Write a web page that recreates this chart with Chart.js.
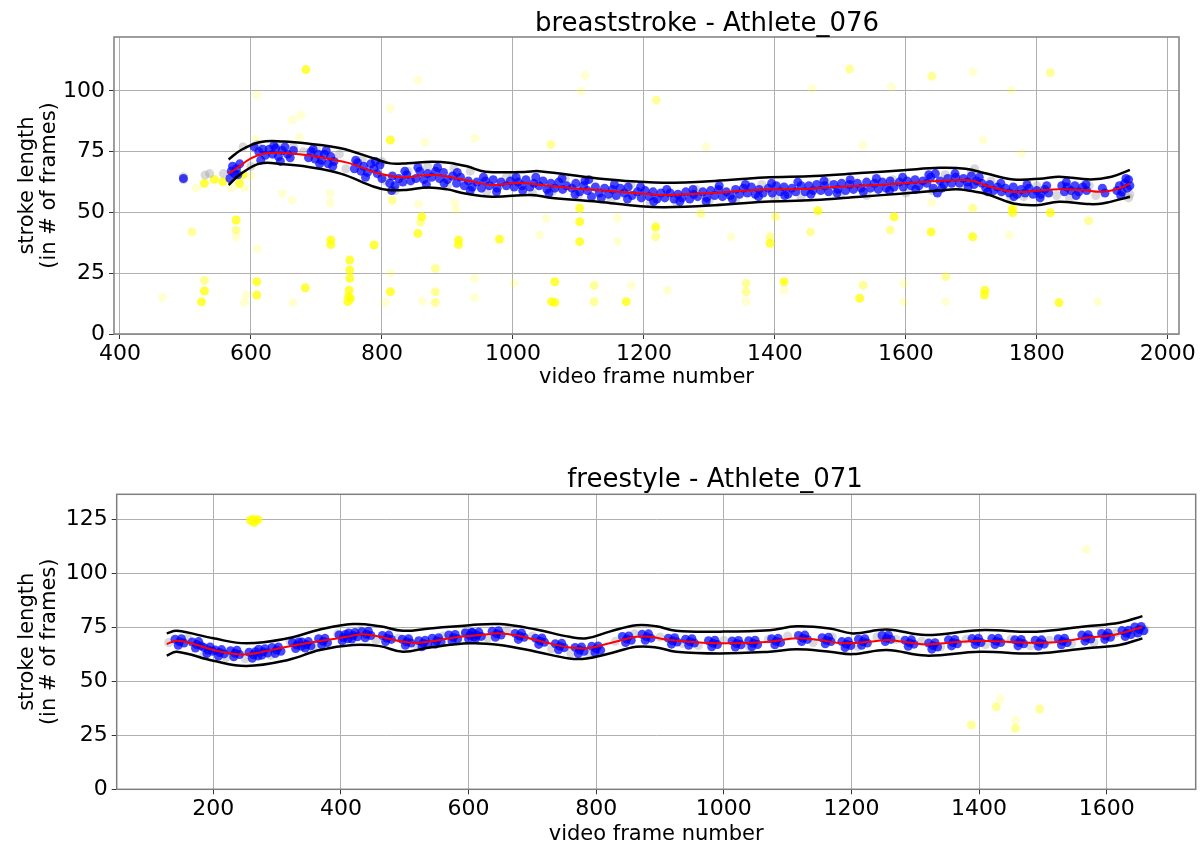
<!DOCTYPE html>
<html>
<head>
<meta charset="utf-8">
<script src="https://cdn.jsdelivr.net/npm/chart.js@4.4.0/dist/chart.umd.min.js"></script>
<style>
  body { margin: 0; background: #fff; width: 1203px; height: 846px; overflow: hidden; position: relative; }
  canvas { position: absolute; left: 0; }
  #top { top: 0; }
  #bottom { top: 430px; }
</style>
</head>
<body>
<canvas id="top" width="1203" height="420"></canvas>
<canvas id="bottom" width="1203" height="416"></canvas>
<script>
// ---- breaststroke - Athlete_076 ----
const topXTicks = [400, 600, 800, 1000, 1200, 1400, 1600, 1800, 2000];
const topYTicks = [0, 25, 50, 75, 100];

const topFitX = [566, 580, 600, 620, 650, 700, 750, 796, 832, 860, 882, 910, 940, 968, 1000, 1020, 1054, 1100, 1130, 1195, 1232, 1280, 1330, 1384, 1434, 1460, 1500, 1550, 1596, 1640, 1677, 1700, 1718, 1740, 1764, 1799, 1834, 1870, 1900, 1926, 1942];
const topFitY = [66, 68.5, 72.3, 74.3, 74.5, 73, 70.3, 66, 64.4, 65.2, 65.4, 64.3, 62.6, 61.3, 62, 62, 61, 59.8, 59.2, 57.8, 57.2, 57.7, 58.5, 59.5, 59.6, 59.9, 60.6, 61.2, 62, 62.8, 63.3, 63.2, 61.5, 59.8, 58.5, 58.9, 59.6, 59.2, 58.5, 59.9, 62];

const topUpX = [566, 585, 615, 650, 686, 737, 788, 813, 840, 876, 902, 930, 958, 1018, 1040, 1130, 1195, 1232, 1308, 1384, 1460, 1530, 1596, 1652, 1691, 1723, 1764, 1810, 1834, 1882, 1914, 1942];
const topUpY = [71.8, 75.7, 79, 79.2, 78.4, 76.4, 72.2, 70.2, 70.3, 70.9, 70.5, 69, 66.8, 66.7, 67, 64, 62.6, 62.2, 63, 64.4, 65, 66.2, 67.4, 68.4, 68, 66, 63.6, 64, 64.7, 63.6, 64.7, 67.5];

const topLowX = [566, 585, 615, 650, 686, 737, 788, 810, 840, 870, 900, 927, 968, 1029, 1060, 1130, 1195, 1232, 1308, 1384, 1460, 1530, 1596, 1650, 1677, 1700, 1723, 1764, 1799, 1834, 1876, 1900, 1942];
const topLowY = [61.3, 66, 70.2, 69.8, 68.8, 66, 60.6, 59.2, 59.4, 60.3, 59.5, 57.8, 56.5, 57.2, 56, 54.4, 52.6, 52.2, 53, 54.4, 55.1, 56.5, 57.8, 59, 59.6, 58.8, 57.6, 53.7, 53, 54.4, 53.5, 53.7, 56.5];

const topBlue = [
  [497,64],[568,64],[570,67],[572,69],[575,66],[578,68],[580,65.5],[583,70],
  [612,75],[618,76],[622,73.5],[628,76],[633,74],[638,76.5],[642,73],[648,75.5],[652,77],[656,74],[660,72.5],
  [688,72.5],[692,75],[698,72],[703,74],[708,71.5],[712,74],[718,70],[722,73],[727,71],
  [758,68],[763,70.5],[768,67],[772,69],[778,66.5],[783,70],[788,68],[793,66],[797,69.5],
  [812,62],[816,65],[820,61],[826,64],[832,62.5],[838,65.5],[844,63],
  [852,64],[858,67],[864,63.5],[870,66],[876,64.5],[882,67],[888,64],[894,66.5],[900,63.5],
  [908,65],[914,62],[920,64.5],[926,61],[932,63],[938,60.5],
  [945,62.5],[952,60],[958,63],[964,61],[970,63.5],[976,60],[982,62.5],
  [990,61],[996,63],[1002,60.5],[1008,62.5],[1014,61],[1020,63.5],[1026,60.5],[1032,62],
  [1040,61],[1046,63],[1052,59.5],[1058,62],[1064,60],[1070,62.5],[1076,59.5],[1082,61],
  [1090,60],[1096,62],[1102,58.5],[1108,61],[1114,59],[1116,63.5],[1120,56.5],[1126,60.5],[1132,58],
  [1140,60],[1146,57.5],[1152,59.5],[1158,57],[1164,60],[1170,58],[1176,60.5],[1182,57],
  [1190,58.5],[1196,56],[1202,59],[1208,56.5],[1214,58.5],[1220,55.5],[1226,58],[1232,56],
  [1240,58],[1246,55.5],[1252,57.5],[1258,56],[1264,58.5],[1270,55.5],[1276,57.5],[1282,56.5],
  [1290,58.5],[1296,56],[1302,59],[1308,57],[1314,59.5],[1320,56.5],[1326,58.5],[1332,57],
  [1340,59.5],[1346,57.5],[1352,60],[1358,58],[1364,60.5],[1370,57.5],[1376,59.5],[1382,58],
  [1390,60],[1396,58],[1402,61],[1408,58.5],[1414,60.5],[1420,57.5],[1426,60],[1432,58.5],
  [1440,61],[1446,58.5],[1452,61],[1458,59],[1464,61.5],[1470,59],[1476,61],[1482,58.5],
  [1490,61.5],[1496,59.5],[1502,62],[1508,59],[1514,61.5],[1520,59.5],[1526,62],[1532,60],
  [1540,62.5],[1546,60],[1552,62],[1558,59.5],[1564,62.5],[1570,60],[1576,63],[1582,60.5],
  [1590,62.5],[1596,60.5],[1602,63],[1608,61],[1614,63.5],[1620,61],[1626,63],[1632,62],
  [1638,64.5],[1642,60],[1645,66],[1648,58],[1652,63],[1658,61.5],[1664,64],[1670,62],[1676,64.5],
  [1682,62],[1688,64],[1694,62.5],[1700,65],[1704,61.5],[1708,63],
  [1716,62],[1722,60],[1728,61.5],[1734,59],[1740,60.5],[1746,58.5],[1752,60],
  [1758,58],[1764,60.5],[1770,57.5],[1776,59.5],[1782,58],[1788,60],[1794,57.5],[1800,59],
  [1806,57.5],[1812,59.5],[1818,58],
  [1838,61],[1842,58.5],[1846,60.5],[1852,59],[1858,61],[1864,58.5],[1870,60.5],[1876,59],
  [1900,60],[1904,58],
  [1922,59],[1926,61],[1930,58.5],[1934,62],[1938,60],[1940,63.5],[1942,61],
  // outer rows of the band
  [605,77],[615,71.5],[635,77.5],[645,71],[665,75.5],[695,76],[705,70],[715,75.5],[725,69],[760,71.5],
  [775,64.5],[790,71],[800,64],[815,59],[835,67],[855,68.5],[868,61.5],[885,68.5],[895,62],[915,66.5],
  [935,59],[955,64.5],[975,58.5],[1005,64.5],[1015,59],[1035,64.5],[1055,58],[1075,64],[1095,57.5],[1110,63],
  [1135,56],[1155,61.5],[1175,55.5],[1195,60.5],[1215,54.5],[1235,59.5],[1255,54.5],[1275,59.5],[1295,54.5],[1315,61],
  [1335,55.5],[1355,61.5],[1375,56.5],[1395,62],[1415,57],[1435,62.5],[1455,57.5],[1475,63],[1495,58],[1515,63.5],
  [1535,58.5],[1555,64],[1575,59],[1595,64.5],[1615,59.5],[1635,65.5],[1655,60],[1675,66],[1695,60.5],[1712,64.5],
  [1725,58.5],[1745,62],[1765,56.5],[1785,61.5],[1805,56],[1815,61],[1845,62.5],[1860,57],[1875,61.5],[1928,57],[1936,64]
];

const topGray = [
  [497,64.7],[497,63.5],[530,65.4],[537,66],[558,66],[588,77],[600,69],[610,78],[640,78],[665,77],
  [680,75],[700,76],[735,74],[745,68],[770,72],[800,71],[805,63],[820,59],[840,67],[870,69],
  [900,61],[910,68],[935,67],[960,58.5],[990,64.5],[1000,65],[1030,58],[1060,58.5],[1080,64],[1100,57],
  [1150,55],[1180,61.5],[1210,54],[1250,54],[1280,59.5],[1300,55],[1340,55],[1380,61.5],[1400,56],[1440,56],
  [1480,62.5],[1500,57],[1540,57],[1580,63.5],[1600,58],[1640,59],[1660,65.5],[1700,66.5],[1705,68],[1730,63],
  [1760,56],[1780,56.5],[1800,61],[1830,57],[1850,56],[1880,61],[1890,57],[1940,56],[1942,57.5]
];

const topYellowBright = [
  [684,108.8],[544,63.6],[529,62],[557,62.6],[582.5,62],[588,65.5],[577.5,46.9],[722,38.7],[722,36.8],[788,36.6],
  [751,30.4],[751,26.3],[751,22.9],[750,18],[749,15.4],[748,13.3],[752,14.5],[529,17.7],[524.6,13.2],[609,21.5],
  [609,16],[683,19],[813,79.8],[813,17.4],[861,48.2],[855,41.4],[917,38.7],[917,36.8],[979.5,39],[1102,51.7],
  [1102,46.2],[1102,38],[1218,44],[1392.6,37.3],[1064,21.5],[1059,13.3],[1064,13],[1173,13.3],[1414,21.5],[1465.6,50.7],
  [1582,48.2],[1638.5,42],[1702,40],[1762.7,51.7],[1763,50],[1820.5,49.9],[1529.5,14.7],[1720.6,18],[1720,16],[1833.7,12.9]
];

const topYellowMid = [
  [1058,78],[1219,96.2],[1514,109],[1639.5,106],[1820.5,107.5],[510,42],[577.5,42.8],[881.6,27],[881.6,17.4],[881.6,13],
  [1124,20],[1124,13.3],[1218,40],[1356,20.8],[1356,17.4],[1392.6,40],[1454.4,42],[1576,42.8],[1702,51.7],[1879,46.6],
  [1534.6,20.1],[1661,23.6],[529,22],[816,55],[813,59],[859,46],[1287,49.6],[1401,48.2]
];

const topYellowFaint = [
  [609,98.3],[663.6,88],[676,90],[674,81],[608,80],[516.6,60],[590,60],[577.5,40],[648,57.8],[663,55],
  [721,57.8],[721,54],[610,35],[592.7,16],[590,13],[664,13],[465,15],[813,92.8],[813,25],[805,13],
  [855,104.4],[1110,106.5],[1104,100],[866,79],[942,80.5],[1295,77],[856,53.4],[911,54],[913,51],[1041,40.7],
  [1051,47.6],[1160,47.7],[1160,38],[1333,40],[862,13.5],[941.5,22.9],[941.5,15],[1002,21],[1181,20],[1236,18],
  [1356,13.3],[1414,18],[1457,101],[1577.7,101.7],[1761,100.3],[1702,107.9],[1534.6,77.7],[1718,79.8],[1776.4,74.3],[1639,54],
  [1758,40.7],[1596.5,20.8],[1596.5,13.3],[1661,13.3],[1893,13.3],[600,65],[570,60]
];

// ---- freestyle - Athlete_071 ----
const botXTicks = [200, 400, 600, 800, 1000, 1200, 1400, 1600];
const botYTicks = [0, 25, 50, 75, 100, 125];

const botFitX = [127, 143, 169, 200, 226, 252, 278, 304, 346, 378, 409, 435, 461, 498, 524, 555, 586, 618, 649, 680, 706, 735, 759, 785, 821, 863, 884, 915, 967, 1020, 1072, 1114, 1150, 1187, 1228, 1255, 1281, 1317, 1370, 1401, 1443, 1490, 1526, 1568, 1610, 1656];
const botFitY = [67.3, 68.8, 67.3, 64.5, 63, 62.5, 63.7, 65.3, 67.6, 69.1, 70.6, 71.8, 70.6, 68.3, 67.9, 69.1, 70.6, 71.4, 72.2, 71, 69.1, 67, 65.7, 65.3, 67.6, 70.6, 70.6, 69.1, 67.9, 67.6, 68.3, 69.9, 69.1, 67.6, 68.3, 69.1, 68.3, 67.1, 68.3, 68.8, 68.3, 67.9, 68.3, 70.2, 71.4, 75];

const botBandX = [127, 143, 200, 252, 317, 367, 419, 461, 497, 539, 602, 649, 706, 758, 785, 821, 863, 894, 925, 994, 1072, 1114, 1166, 1202, 1255, 1317, 1401, 1490, 1568, 1620, 1656];
const botUpY = [72.2, 73.4, 69.9, 67.6, 69.9, 74, 76.5, 75.5, 73.4, 74.5, 76, 76.5, 74, 70.6, 69.9, 73, 76, 75.5, 73.4, 73, 73.7, 75.5, 74.5, 72.2, 74, 71.4, 73.7, 73, 75.5, 77.1, 80.2];
const botLowY = [61.9, 63.7, 59.5, 57.1, 59.9, 64.5, 66.8, 66.3, 63.7, 65.7, 67.6, 66.8, 63.7, 60.6, 60.6, 62.9, 66, 65.7, 63.7, 62.9, 63.7, 64.8, 63.7, 62.6, 64.5, 61.9, 63.7, 62.9, 65.3, 66.8, 69.9];

const botBlue = [
  [140,69.5],[145,66.7],[150,69.7],[154,67.7],[147,68.3],
  [167,68.2],[172,65.4],[177,68.4],[181,66.4],[174,67],
  [185,65.7],[190,62.9],[195,65.9],[199,63.9],[192,64.5],
  [203,64.5],[208,61.7],[213,64.7],[217,62.7],[210,63.3],
  [227,64.2],[232,61.4],[237,64.4],[241,62.4],[234,63],
  [256,63.5],[261,60.7],[266,63.7],[270,61.7],[263,62.3],
  [271,64.9],[276,62.1],[281,65.1],[285,63.1],[278,63.7],
  [292,65.7],[297,62.9],[302,65.9],[306,63.9],[299,64.5],
  [324,68],[329,65.2],[334,68.2],[338,66.2],[331,66.8],
  [339,68.2],[344,65.4],[349,68.4],[353,66.4],[346,67],
  [365,69.7],[370,66.9],[375,69.9],[379,67.9],[372,68.5],
  [397,71.5],[402,68.7],[407,71.7],[411,69.7],[404,70.3],
  [412,72.4],[417,69.6],[422,72.6],[426,70.6],[419,71.2],
  [433,73],[438,70.2],[443,73.2],[447,71.2],[440,71.8],
  [465,71.2],[470,68.4],[475,71.4],[479,69.4],[472,70],
  [496,69.5],[501,66.7],[506,69.7],[510,67.7],[503,68.3],
  [522,68.8],[527,66],[532,69],[536,67],[529,67.6],
  [543,70],[548,67.2],[553,70.2],[557,68.2],[550,68.8],
  [569,71.5],[574,68.7],[579,71.7],[583,69.7],[576,70.3],
  [595,72.4],[600,69.6],[605,72.6],[609,70.6],[602,71.2],
  [606,72.6],[611,69.8],[616,72.8],[620,70.8],[613,71.4],
  [637,73.2],[642,70.4],[647,73.4],[651,71.4],[644,72],
  [673,72.2],[678,69.4],[683,72.4],[687,70.4],[680,71],
  [705,69.9],[710,67.1],[715,70.1],[719,68.1],[712,68.7],
  [736,67.4],[741,64.6],[746,67.6],[750,65.6],[743,66.2],
  [767,65.7],[772,62.9],[777,65.9],[781,63.9],[774,64.5],
  [793,66.2],[798,63.4],[803,66.4],[807,64.4],[800,65],
  [841,70.8],[846,68],[851,71],[855,69],[848,69.6],
  [872,71.8],[877,69],[882,72],[886,70],[879,70.6],
  [913,70],[918,67.2],[923,70.2],[927,68.2],[920,68.8],
  [940,69.5],[945,66.7],[950,69.7],[954,67.7],[947,68.3],
  [976,68.8],[981,66],[986,69],[990,67],[983,67.6],
  [1013,68.7],[1018,65.9],[1023,68.9],[1027,66.9],[1020,67.5],
  [1039,68.8],[1044,66],[1049,69],[1053,67],[1046,67.6],
  [1075,69.7],[1080,66.9],[1085,69.9],[1089,67.9],[1082,68.5],
  [1117,71.2],[1122,68.4],[1127,71.4],[1131,69.4],[1124,70],
  [1154,70.2],[1159,67.4],[1164,70.4],[1168,68.4],[1161,69],
  [1185,68.4],[1190,65.6],[1195,68.6],[1199,66.6],[1192,67.2],
  [1211,69.5],[1216,66.7],[1221,69.7],[1225,67.7],[1218,68.3],
  [1248,71.2],[1253,68.4],[1258,71.4],[1262,69.4],[1255,70],
  [1284,69],[1289,66.2],[1294,69.2],[1298,67.2],[1291,67.8],
  [1321,67.7],[1326,64.9],[1331,67.9],[1335,65.9],[1328,66.5],
  [1352,69.2],[1357,66.4],[1362,69.4],[1366,67.4],[1359,68],
  [1389,69.8],[1394,67],[1399,70],[1403,68],[1396,68.6],
  [1420,69.8],[1425,67],[1430,70],[1434,68],[1427,68.6],
  [1456,69.2],[1461,66.4],[1466,69.4],[1470,67.4],[1463,68],
  [1488,69],[1493,66.2],[1498,69.2],[1502,67.2],[1495,67.8],
  [1524,69.7],[1529,66.9],[1534,69.9],[1538,67.9],[1531,68.5],
  [1561,71.4],[1566,68.6],[1571,71.6],[1575,69.6],[1568,70.2],
  [1592,72.2],[1597,69.4],[1602,72.4],[1606,70.4],[1599,71],
  [1624,73.5],[1629,70.7],[1634,73.7],[1638,71.7],[1631,72.3],
  [1644,75.2],[1649,72.4],[1654,75.4],[1658,73.4],[1651,74]
];

const botGray = [
  [130,68],[160,70],[185,62],[220,61],[250,60.5],[290,62],[320,68.5],[360,66],[395,72],[430,73.5],
  [455,69],[490,70],[520,66],[560,71],[595,73],[630,70],[660,73.5],[700,71],[730,65],[760,63],
  [790,62.5],[830,68.5],[860,72],[900,70.5],[935,67.5],[960,66.5],[1000,69],[1040,66],[1070,69.5],[1100,71],
  [1140,68],[1170,70.5],[1210,66],[1240,70.5],[1270,69.5],[1310,68.5],[1340,66],[1380,69.5],[1410,67],[1450,69.5],
  [1480,66.5],[1510,69],[1545,67.5],[1580,68],[1615,72.5],[1645,72.5],[1660,74]
];

const botYellowBright = [[258,124.5],[262,125],[266,124.5],[264,123.5],[270,124.8]];
const botYellowMid = [[1388,29.8],[1427,38.2],[1457,28.2],[1495,37.2]];
const botYellowFaint = [[1457,32],[1568,111],[1433,42]];

function zipXY(xs, ys) {
  return xs.map((x, i) => ({ x: x, y: ys[i] }));
}
function fromPairs(arr) {
  return arr.map(p => ({ x: p[0], y: p[1] }));
}

function curve(data, color, width) {
  return { data: data, showLine: true, borderColor: color, borderWidth: width, pointRadius: 0, tension: 0.4, fill: false };
}
function dots(data, color) {
  return { data: data, showLine: false, backgroundColor: color, borderWidth: 0, pointRadius: 4.5, pointHoverRadius: 4.5 };
}

// matplotlib-like spines on all four sides
const framePlugin = {
  id: 'frame',
  afterDatasetsDraw(chart) {
    const a = chart.chartArea;
    const ctx = chart.ctx;
    ctx.save();
    ctx.strokeStyle = '#7f7f7f';
    ctx.lineWidth = 1.5;
    ctx.strokeRect(a.left, a.top, a.right - a.left, a.bottom - a.top);
    ctx.restore();
  }
};

// subplot title, placed like the original (a bit right of the axes centre)
const panelTitle = {
  id: 'panelTitle',
  afterDraw(chart, args, opts) {
    const ctx = chart.ctx;
    ctx.save();
    ctx.font = '26px "DejaVu Sans"';
    ctx.fillStyle = '#000';
    ctx.textAlign = 'center';
    ctx.textBaseline = 'alphabetic';
    ctx.fillText(opts.text, opts.x, opts.y);
    ctx.restore();
  }
};

const FONT = 'DejaVu Sans';

function drawPanel(id, p) {
  new Chart(document.getElementById(id), {
    type: 'scatter',
    data: {
      datasets: [
        curve(p.fit, 'rgb(255,0,0)', 2),
        curve(p.upper, '#000', 2.5),
        curve(p.lower, '#000', 2.5),
        dots(p.blue, 'rgba(0,0,255,0.72)'),
        dots(p.gray, 'rgba(128,128,140,0.3)'),
        dots(p.yBright, 'rgba(255,255,0,0.75)'),
        dots(p.yMid, 'rgba(255,255,0,0.4)'),
        dots(p.yFaint, 'rgba(255,255,0,0.18)')
      ]
    },
    options: {
      responsive: false,
      animation: false,
      events: [],
      layout: { padding: p.padding },
      plugins: {
        legend: { display: false },
        tooltip: { enabled: false },
        title: { display: false },
        panelTitle: { text: p.title, x: p.titleX, y: p.titleY }
      },
      scales: {
        x: {
          type: 'linear',
          min: p.xMin, max: p.xMax,
          afterBuildTicks: (s) => { s.ticks = p.xTicks.map(v => ({ value: v })); },
          afterFit: (s) => { s.height = p.xHeight; },
          grid: { color: '#b0b0b0', lineWidth: 1, drawTicks: true, tickLength: 5, tickColor: '#333' },
          border: { display: false },
          ticks: { autoSkip: false, maxRotation: 0, padding: 2, color: '#000',
                   font: { family: FONT, size: 22 }, callback: (v) => String(v) },
          title: { display: true, text: 'video frame number', color: '#000',
                   font: { family: FONT, size: 21, lineHeight: 1 }, padding: { top: 0, bottom: p.xTitlePad } }
        },
        y: {
          type: 'linear',
          min: 0, max: p.yMax,
          afterBuildTicks: (s) => { s.ticks = p.yTicks.map(v => ({ value: v })); },
          afterFit: (s) => { s.width = p.yWidth; },
          grid: { color: '#b0b0b0', lineWidth: 1, drawTicks: true, tickLength: 5, tickColor: '#333' },
          border: { display: false },
          ticks: { autoSkip: false, padding: 4, color: '#000',
                   font: { family: FONT, size: 22 }, callback: (v) => String(v) },
          title: { display: true, text: ['stroke length', '(in # of frames)'], color: '#000',
                   font: { family: FONT, size: 21, lineHeight: 1.08 }, padding: { top: 16, bottom: 0 } }
        }
      }
    },
    plugins: [framePlugin, panelTitle]
  });
}

drawPanel('top', {
  title: 'breaststroke - Athlete_076', titleX: 707, titleY: 30.5,
  fit: zipXY(topFitX, topFitY),
  upper: zipXY(topUpX, topUpY),
  lower: zipXY(topLowX, topLowY),
  blue: fromPairs(topBlue),
  gray: fromPairs(topGray),
  yBright: fromPairs(topYellowBright),
  yMid: fromPairs(topYellowMid),
  yFaint: fromPairs(topYellowFaint),
  xTicks: topXTicks, yTicks: topYTicks,
  xMin: 391, xMax: 2017, yMax: 122.2,
  padding: { left: 0, right: 24, top: 37, bottom: 26 },
  xHeight: 60, xTitlePad: 6, yWidth: 114
});

drawPanel('bottom', {
  title: 'freestyle - Athlete_071', titleX: 715, titleY: 56.5,
  fit: zipXY(botFitX, botFitY),
  upper: zipXY(botBandX, botUpY),
  lower: zipXY(botBandX, botLowY),
  blue: fromPairs(botBlue),
  gray: fromPairs(botGray),
  yBright: fromPairs(botYellowBright),
  yMid: fromPairs(botYellowMid),
  yFaint: fromPairs(botYellowFaint),
  xTicks: botXTicks, yTicks: botYTicks,
  xMin: 48.6, xMax: 1739.5, yMax: 136.6,
  padding: { left: 0, right: 7.3, top: 64.3, bottom: 0 },
  xHeight: 56.7, xTitlePad: 1, yWidth: 116.7
});
</script>
</body>
</html>
